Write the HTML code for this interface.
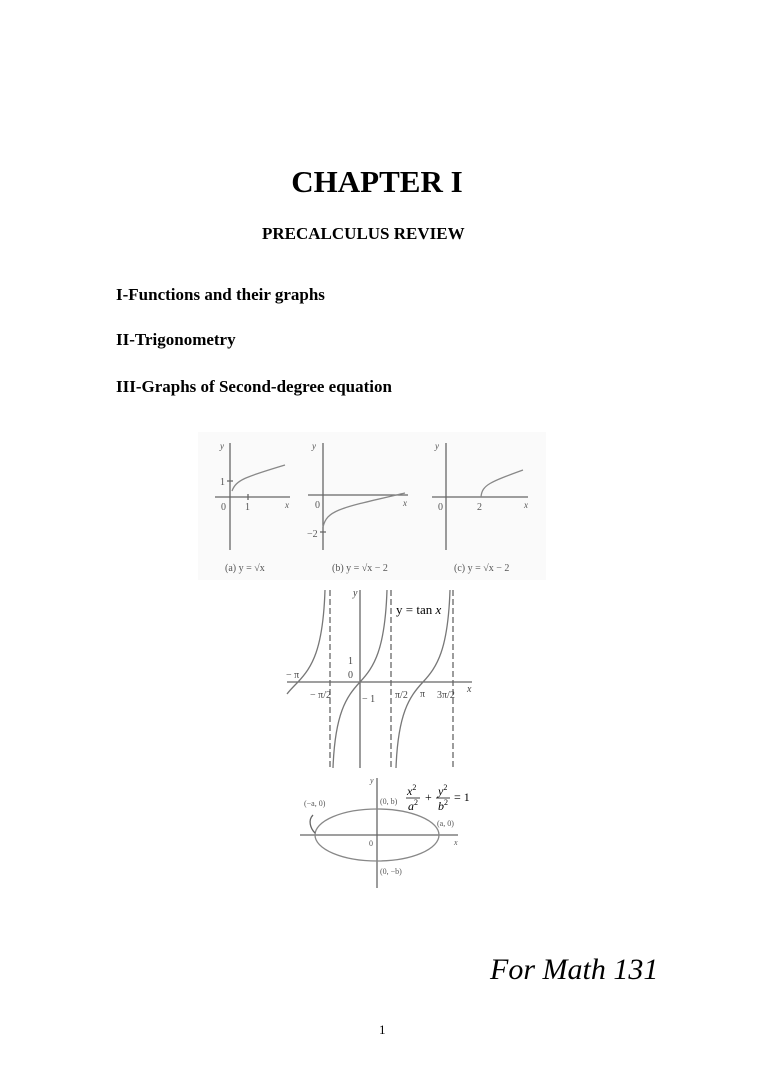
<!DOCTYPE html>
<html><head><meta charset="utf-8"><style>
body{margin:0;width:768px;height:1087px;background:#fff;position:relative;font-family:"Liberation Serif",serif;color:#000;overflow:hidden}
.t{position:absolute;white-space:nowrap;font-weight:bold}
svg{position:absolute;left:0;top:0}
</style></head><body>
<div class="t" style="left:-7px;width:768px;text-align:center;top:164px;font-size:31px">CHAPTER I</div>
<div class="t" style="left:262px;top:224px;font-size:17px">PRECALCULUS REVIEW</div>
<div class="t" style="left:116px;top:285px;font-size:17px">I-Functions and their graphs</div>
<div class="t" style="left:116px;top:330px;font-size:17px">II-Trigonometry</div>
<div class="t" style="left:116px;top:377px;font-size:17px">III-Graphs of Second-degree equation</div>
<div style="position:absolute;left:490px;top:953px;font-size:30px;font-style:italic;font-family:'Liberation Serif',serif">For Math 131</div>
<div style="position:absolute;left:379px;top:1022px;font-size:13px">1</div>
<svg width="768" height="1087" font-family="Liberation Serif, serif" fill="none" stroke="#666" stroke-width="1.3">
<rect x="198" y="432" width="348" height="148" fill="#fafafa" stroke="none"/>
<path d="M230 550V443M215 497H290M248 494V500M227 481H233"/>
<path d="M232 491C236 480 245 477 285 465" stroke="#888"/>
<path d="M323 550V443M308 495H408M320 532H326"/>
<path d="M323 527C327 510 340 508 405 493" stroke="#888"/>
<path d="M446 550V443M432 497H528"/>
<path d="M481 497C482 485 490 482 523 470" stroke="#888"/>
<g fill="#555" stroke="none" font-size="9" font-style="italic">
<text x="220" y="449">y</text><text x="312" y="449">y</text><text x="435" y="449">y</text>
<text x="285" y="508">x</text><text x="403" y="506">x</text><text x="524" y="508">x</text>
</g>
<g fill="#555" stroke="none" font-size="10">
<text x="220" y="485">1</text><text x="221" y="510">0</text><text x="245" y="510">1</text>
<text x="315" y="508">0</text><text x="307" y="537">−2</text>
<text x="438" y="510">0</text><text x="477" y="510">2</text>
<text x="225" y="571">(a) y = √x</text><text x="332" y="571">(b) y = √x − 2</text><text x="454" y="571">(c) y = √x − 2</text>
</g>
<path d="M360 768V590M287 682H472"/>
<path d="M330 590V768M391 590V768M453 590V768" stroke-dasharray="6,3"/>
<g stroke="#777">
<path d="M360 682C374 667 385 650 387 590M360 682C346 697 335 714 333 768"/>
<path d="M423 682C437 667 448 650 450 590M423 682C409 697 398 714 396 768"/>
<path d="M298 682C312 667 323 650 325 590M298 682C292 688 290 690 287 694"/>
</g>
<g fill="#444" stroke="none" font-size="10">
<text x="353" y="596" font-style="italic">y</text>
<text x="396" y="614" font-size="13" fill="#000">y = tan <tspan font-style="italic">x</tspan></text>
<text x="348" y="664">1</text><text x="348" y="678">0</text>
<text x="286" y="678">− π</text><text x="310" y="698">− π/2</text><text x="362" y="702">− 1</text>
<text x="395" y="698">π/2</text><text x="420" y="697">π</text><text x="437" y="698">3π/2</text>
<text x="467" y="692" font-style="italic">x</text>
</g>
<path d="M377 888V778M300 835H458"/>
<ellipse cx="377" cy="835" rx="62" ry="26" stroke="#888"/>
<path d="M313 815C308 820 310 828 315 833"/>
<g fill="#555" stroke="none" font-size="8">
<text x="370" y="783" font-style="italic">y</text>
<text x="380" y="804">(0, b)</text><text x="304" y="806">(−a, 0)</text>
<text x="437" y="826">(a, 0)</text><text x="369" y="846">0</text>
<text x="380" y="874">(0, −b)</text><text x="454" y="845" font-style="italic">x</text>
</g>
<g fill="#000" stroke="none" font-size="12">
<text x="407" y="795" font-style="italic">x<tspan font-size="8" dy="-5" font-style="normal">2</tspan></text>
<text x="408" y="810" font-style="italic">a<tspan font-size="8" dy="-5" font-style="normal">2</tspan></text>
<text x="425" y="801">+</text>
<text x="438" y="795" font-style="italic">y<tspan font-size="8" dy="-5" font-style="normal">2</tspan></text>
<text x="438" y="810" font-style="italic">b<tspan font-size="8" dy="-5" font-style="normal">2</tspan></text>
<text x="454" y="801">= 1</text>
</g>
<path d="M406 798H420M436 798H450" stroke="#000" stroke-width="0.8"/>
</svg>
</body></html>
